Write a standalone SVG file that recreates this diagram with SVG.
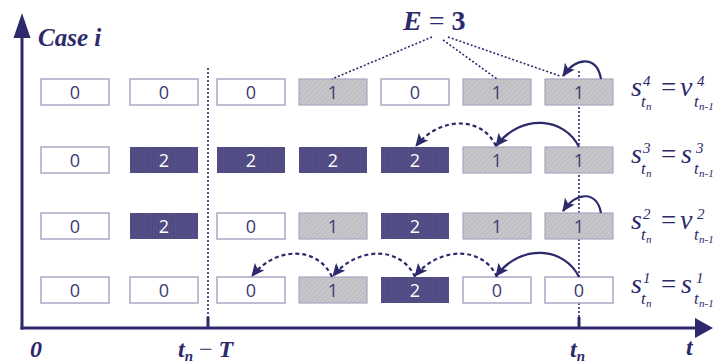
<svg xmlns="http://www.w3.org/2000/svg" width="713" height="363" viewBox="0 0 713 363">
<defs>
<pattern id="hatch" width="3.5" height="3.5" patternUnits="userSpaceOnUse" patternTransform="rotate(45)">
<rect width="3.5" height="3.5" fill="#BFBFC4"/>
<line x1="0" y1="0" x2="0" y2="3.5" stroke="#D4D4D8" stroke-width="1.2"/>
</pattern>
<pattern id="darkp" width="3" height="3" patternUnits="userSpaceOnUse">
<rect width="3" height="3" fill="#4E4980"/>
<line x1="1" y1="0" x2="1" y2="3" stroke="#57528A" stroke-width="1"/>
</pattern>
<marker id="ah" markerWidth="14" markerHeight="12" refX="12" refY="6" orient="auto" markerUnits="userSpaceOnUse">
<path d="M0,0 L13,6 L0,12 L3,6 Z" fill="#2C2A6B"/>
</marker>
<style>
.w{fill:#FFFFFF;stroke:#A9A7C4;stroke-width:1.5}
.h{fill:url(#hatch);stroke:#A9A7C4;stroke-width:1.2}
.d{fill:url(#darkp);stroke:none}
.n{font-family:"Open Sans","Liberation Sans",sans-serif;font-size:18px;text-anchor:middle;fill:#3B3A73}
.nw{font-family:"Open Sans","Liberation Sans",sans-serif;font-size:18px;text-anchor:middle;fill:#FFFFFF}
.m{font-family:"Liberation Serif","DejaVu Serif",serif;font-style:italic;fill:#2C2A6B}
.b{font-family:"Liberation Serif","DejaVu Serif",serif;font-style:italic;font-weight:bold;fill:#2C2A6B}
.eq{font-family:"Liberation Serif","DejaVu Serif",serif;font-size:27px;fill:#2C2A6B}
.arc{fill:none;stroke:#2C2A6B;stroke-width:2.2}
.dash{stroke-dasharray:4 3}
.dot{fill:none;stroke:#2C2A6B;stroke-width:1.6;stroke-dasharray:2 2}
</style>
</defs>
<rect width="713" height="363" fill="#FFFFFF"/>

<g id="axes">
<line x1="22" y1="34" x2="22" y2="329.5" stroke="#2C2A6B" stroke-width="3"/>
<path d="M22,13 L30.5,38 L13.5,38 Z" fill="#2C2A6B"/>
<line x1="20.5" y1="328" x2="697" y2="328" stroke="#2C2A6B" stroke-width="3"/>
<path d="M713,328 L695,318 L695,338 Z" fill="#2C2A6B"/>
<line x1="208" y1="68" x2="208" y2="318" class="dot"/>
<line x1="208" y1="317" x2="208" y2="328" stroke="#2C2A6B" stroke-width="3"/>
<line x1="579" y1="71" x2="579" y2="318" class="dot"/>
<line x1="579" y1="317" x2="579" y2="328" stroke="#2C2A6B" stroke-width="3"/>
<text class="b" x="38" y="46" font-size="25">Case i</text>
<text class="b" x="30" y="357" font-size="24">0</text>
<text class="b" x="178" y="357" font-size="24">t<tspan font-size="15" dy="4">n</tspan><tspan dy="-4" font-style="normal" font-weight="normal"> − </tspan>T</text>
<text class="b" x="570" y="357" font-size="24">t<tspan font-size="15" dy="4">n</tspan></text>
<text class="b" x="686" y="355" font-size="24">t</text>
<text class="b" x="403" y="30" font-size="28">E <tspan font-style="normal" font-weight="normal">=</tspan> <tspan font-style="normal">3</tspan></text>
</g>

<g id="row1">
<rect class="w" x="41" y="79" width="68" height="26"/><text class="n" x="75" y="99">0</text>
<rect class="w" x="130" y="79" width="68" height="26"/><text class="n" x="164" y="99">0</text>
<rect class="w" x="217" y="79" width="68" height="26"/><text class="n" x="251" y="99">0</text>
<rect class="h" x="299" y="79" width="68" height="26"/><text class="n" x="333" y="99">1</text>
<rect class="w" x="381" y="79" width="68" height="26"/><text class="n" x="415" y="99">0</text>
<rect class="h" x="463" y="79" width="68" height="26"/><text class="n" x="497" y="99">1</text>
<rect class="h" x="545" y="79" width="68" height="26"/><text class="n" x="579" y="99">1</text>
</g>
<g id="row2">
<rect class="w" x="41" y="147" width="68" height="26"/><text class="n" x="75" y="167">0</text>
<rect class="d" x="130" y="147" width="68" height="26"/><text class="nw" x="164" y="167">2</text>
<rect class="d" x="217" y="147" width="68" height="26"/><text class="nw" x="251" y="167">2</text>
<rect class="d" x="299" y="147" width="68" height="26"/><text class="nw" x="333" y="167">2</text>
<rect class="d" x="381" y="147" width="68" height="26"/><text class="nw" x="415" y="167">2</text>
<rect class="h" x="463" y="147" width="68" height="26"/><text class="n" x="497" y="167">1</text>
<rect class="h" x="545" y="147" width="68" height="26"/><text class="n" x="579" y="167">1</text>
</g>
<g id="row3">
<rect class="w" x="41" y="213" width="68" height="26"/><text class="n" x="75" y="233">0</text>
<rect class="d" x="130" y="213" width="68" height="26"/><text class="nw" x="164" y="233">2</text>
<rect class="w" x="217" y="213" width="68" height="26"/><text class="n" x="251" y="233">0</text>
<rect class="h" x="299" y="213" width="68" height="26"/><text class="n" x="333" y="233">1</text>
<rect class="d" x="381" y="213" width="68" height="26"/><text class="nw" x="415" y="233">2</text>
<rect class="h" x="463" y="213" width="68" height="26"/><text class="n" x="497" y="233">1</text>
<rect class="h" x="545" y="213" width="68" height="26"/><text class="n" x="579" y="233">1</text>
</g>
<g id="row4">
<rect class="w" x="41" y="277" width="68" height="26"/><text class="n" x="75" y="297">0</text>
<rect class="w" x="130" y="277" width="68" height="26"/><text class="n" x="164" y="297">0</text>
<rect class="w" x="217" y="277" width="68" height="26"/><text class="n" x="251" y="297">0</text>
<rect class="h" x="299" y="277" width="68" height="26"/><text class="n" x="333" y="297">1</text>
<rect class="d" x="381" y="277" width="68" height="26"/><text class="nw" x="415" y="297">2</text>
<rect class="w" x="463" y="277" width="68" height="26"/><text class="n" x="497" y="297">0</text>
<rect class="w" x="545" y="277" width="68" height="26"/><text class="n" x="579" y="297">0</text>
</g>

<g id="connectors">
<line x1="432" y1="37" x2="332" y2="79" class="dot"/>
<line x1="443" y1="40" x2="497" y2="79" class="dot"/>
<line x1="448" y1="37" x2="560" y2="76" class="dot"/>
<path class="arc" d="M601,79 C597,56 577,56 563,76" marker-end="url(#ah)"/>
<path class="arc" d="M579,147 C565,118 522,112 496,146" marker-end="url(#ah)"/>
<path class="arc dash" d="M496,146 C482,116 440,116 416,146" marker-end="url(#ah)"/>
<path class="arc" d="M601,213 C597,191 577,191 563,211" marker-end="url(#ah)"/>
<path class="arc" d="M579,277 C565,248 522,242 496,276" marker-end="url(#ah)"/>
<path class="arc dash" d="M497,277 C483,246 440,246 415,276" marker-end="url(#ah)"/>
<path class="arc dash" d="M415,277 C401,246 358,246 333,276" marker-end="url(#ah)"/>
<path class="arc dash" d="M332,277 C318,246 276,246 252,276" marker-end="url(#ah)"/>
</g>

<g id="labels">
<text class="m" x="631" y="96" font-size="28">s</text><text class="m" x="643" y="86" font-size="15">4</text><text class="m" x="641" y="107" font-size="17">t</text><text class="m" x="646" y="110" font-size="11">n</text>
<text class="eq" x="661" y="96">=</text>
<text class="m" x="680" y="96" font-size="28">v</text><text class="m" x="697" y="86" font-size="15">4</text><text class="m" x="694" y="107" font-size="17">t</text><text class="m" x="699" y="110" font-size="11">n-1</text>

<text class="m" x="631" y="163" font-size="28">s</text><text class="m" x="643" y="153" font-size="15">3</text><text class="m" x="641" y="174" font-size="17">t</text><text class="m" x="646" y="177" font-size="11">n</text>
<text class="eq" x="661" y="163">=</text>
<text class="m" x="681" y="163" font-size="28">s</text><text class="m" x="696" y="153" font-size="15">3</text><text class="m" x="694" y="174" font-size="17">t</text><text class="m" x="699" y="177" font-size="11">n-1</text>

<text class="m" x="631" y="229" font-size="28">s</text><text class="m" x="643" y="219" font-size="15">2</text><text class="m" x="641" y="240" font-size="17">t</text><text class="m" x="646" y="243" font-size="11">n</text>
<text class="eq" x="661" y="229">=</text>
<text class="m" x="680" y="229" font-size="28">v</text><text class="m" x="697" y="219" font-size="15">2</text><text class="m" x="694" y="240" font-size="17">t</text><text class="m" x="699" y="243" font-size="11">n-1</text>

<text class="m" x="631" y="293" font-size="28">s</text><text class="m" x="643" y="283" font-size="15">1</text><text class="m" x="641" y="304" font-size="17">t</text><text class="m" x="646" y="307" font-size="11">n</text>
<text class="eq" x="661" y="293">=</text>
<text class="m" x="681" y="293" font-size="28">s</text><text class="m" x="696" y="283" font-size="15">1</text><text class="m" x="694" y="304" font-size="17">t</text><text class="m" x="699" y="307" font-size="11">n-1</text>
</g>
</svg>
